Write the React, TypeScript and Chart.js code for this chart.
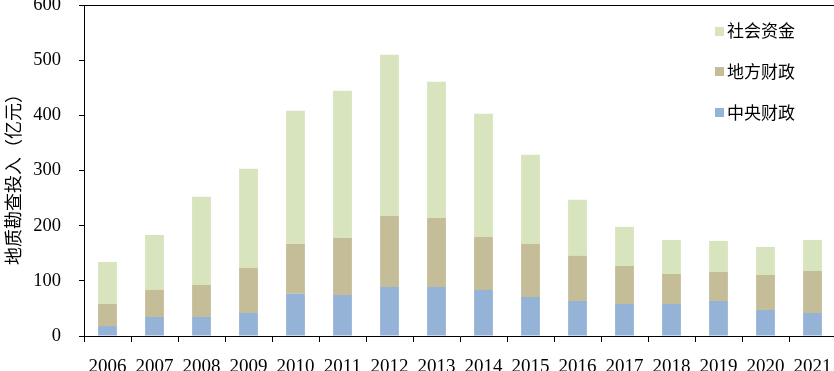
import React, { useEffect, useRef } from 'react';
import { Chart, registerables } from 'chart.js';

Chart.register(...registerables);

const years = ['2006', '2007', '2008', '2009', '2010', '2011', '2012', '2013', '2014', '2015', '2016', '2017', '2018', '2019', '2020', '2021'];
const centralFinance = [18, 34.5, 34.5, 41.7, 76.8, 74.4, 88.9, 88.9, 83.5, 70.8, 63.5, 58, 58, 63.5, 47.2, 41.7];
const localFinance = [40, 49, 58, 81.7, 90.2, 103.4, 128.8, 125.2, 96.1, 96.2, 81.7, 69, 54.5, 52.6, 63.5, 76.2];
const socialFunds = [76.3, 99.8, 159.7, 179.6, 241.3, 266.8, 292.3, 246.8, 223.2, 161.4, 101.6, 70.8, 61.7, 56.3, 50.8, 56.3];
const seriesNames = ['中央财政', '地方财政', '社会资金'];
const seriesColors = ['#95B3D7', '#C4BD97', '#D7E4BD'];
const yAxisTitle = '地质勘查投入（亿元）';

const frameAndLegend = {
  id: 'frameAndLegend',
  afterDraw(chart: any) {
    const ctx = chart.ctx;
    const { top, left, right } = chart.chartArea;
    ctx.save();
    ctx.strokeStyle = '#000';
    ctx.lineWidth = 1;
    ctx.beginPath();
    ctx.moveTo(left, Math.round(top) + 0.5);
    ctx.lineTo(right, Math.round(top) + 0.5);
    ctx.stroke();
    const items = chart.data.datasets.slice().reverse();
    ctx.font = '17px "Noto Sans CJK SC", sans-serif';
    ctx.textBaseline = 'middle';
    ctx.textAlign = 'left';
    items.forEach((ds: any, i: number) => {
      const y = 31 + i * 40.7;
      ctx.fillStyle = ds.backgroundColor;
      ctx.fillRect(715, Math.round(y - 4.5), 9, 9);
      ctx.fillStyle = '#000';
      ctx.fillText(ds.label, 727, y);
    });
    // y-axis title
    ctx.translate(13, 175);
    ctx.rotate(-Math.PI / 2);
    ctx.font = '18px "Noto Sans CJK SC", sans-serif';
    ctx.textAlign = 'center';
    ctx.textBaseline = 'middle';
    ctx.fillStyle = '#000';
    ctx.fillText(yAxisTitle, 0, 0);
    ctx.restore();
  },
};

export default function App() {
  const ref = useRef<HTMLCanvasElement>(null);
  useEffect(() => {
    if (!ref.current) return;
    const tickFont = { family: '"Liberation Serif", "Times New Roman", serif', size: 19 };
    const chart = new Chart(ref.current, {
      type: 'bar',
      data: {
        labels: years,
        datasets: [
          { label: seriesNames[0], data: centralFinance, backgroundColor: seriesColors[0] },
          { label: seriesNames[1], data: localFinance, backgroundColor: seriesColors[1] },
          { label: seriesNames[2], data: socialFunds, backgroundColor: seriesColors[2] },
        ],
      },
      options: {
        animation: false,
        responsive: false,
        layout: { padding: { left: 0, top: 5, right: 0, bottom: 0 } },
        datasets: { bar: { barPercentage: 0.4, categoryPercentage: 1 } },
        plugins: { legend: { display: false }, tooltip: { enabled: false } },
        scales: {
          x: {
            stacked: true,
            grid: { display: true, drawOnChartArea: false, drawTicks: true, tickLength: 6, color: '#000', offset: true },
            border: { display: true, color: '#000', width: 1 },
            ticks: { color: '#000', font: tickFont, padding: 14, maxRotation: 0, autoSkip: false },
            afterFit: (s: any) => {
              s.height = 49;
              s.paddingLeft = 0;
              s.paddingRight = 0;
            },
          },
          y: {
            stacked: true,
            min: 0,
            max: 600,
            grid: { display: true, drawOnChartArea: false, drawTicks: true, tickLength: 5, color: '#000' },
            border: { display: true, color: '#000', width: 1 },
            ticks: { color: '#000', font: { ...tickFont, size: 18.5 }, padding: 18, stepSize: 100 },
            title: { display: false },
            afterFit: (s: any) => {
              s.width = 84;
              s.paddingTop = 0;
              s.paddingBottom = 0;
            },
          },
        },
      },
      plugins: [frameAndLegend],
    });
    return () => chart.destroy();
  }, []);
  return (
    <div style={{ position: 'fixed', left: 0, top: 0, width: 834, height: 371, overflow: 'hidden', background: '#fff' }}>
      <canvas ref={ref} width={836} height={385} style={{ display: 'block', width: 836, height: 385 }} />
    </div>
  );
}
